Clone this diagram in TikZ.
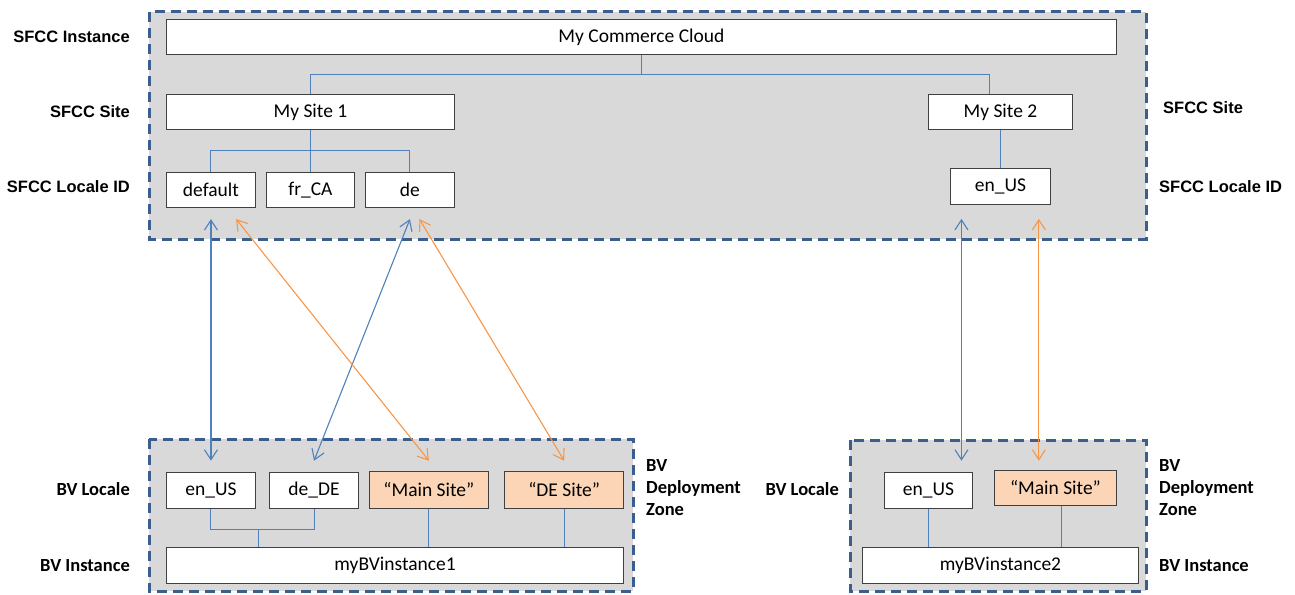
\documentclass[tikz,border=0pt]{standalone}
\usepackage{fontspec}
\setmainfont{Carlito}
\newfontfamily\arialfont{Liberation Sans}
\usetikzlibrary{arrows.meta,calc}
\definecolor{zonegray}{RGB}{217,217,217}
\definecolor{zoneblue}{RGB}{58,95,142}
\definecolor{linkblue}{RGB}{79,129,189}
\definecolor{linkorange}{RGB}{247,150,70}
\definecolor{boxorange}{RGB}{251,213,181}
\definecolor{boxline}{RGB}{64,64,64}
\tikzset{
  zone/.style={fill=zonegray, draw=zoneblue, line width=3pt, dash pattern=on 10pt off 6pt},
  box/.style={draw=boxline, line width=0.9pt, fill=white, anchor=north west, inner sep=0pt,
    font=\fontsize{19.5}{22}\selectfont},
  obox/.style={box, fill=boxorange},
  lbl/.style={font=\fontsize{18.5}{22}\selectfont\bfseries, inner sep=0pt},
  slbl/.style={font=\arialfont\fontsize{16.5}{20}\selectfont\bfseries, inner sep=0pt},
  conn/.style={draw=linkblue, line width=1pt},
  barrow/.style={draw=linkblue, line width=1.1pt, {Straight Barb[length=10pt,width=13pt]}-{Straight Barb[length=10pt,width=13pt]}},
  oarrow/.style={barrow, draw=linkorange},
}
\begin{document}
\begin{tikzpicture}[x=1pt,y=-1pt]
\useasboundingbox (0,0) rectangle (1295,594);
% zones
\draw[zone] (149.4,12) rectangle (1146,239);
\draw[zone] (149.4,439) rectangle (633.4,591);
\draw[zone] (850,440) rectangle (1146,591);
% SFCC boxes
\node[box, minimum width=950pt, minimum height=35pt] (mcc) at (166,19.5) {My Commerce Cloud};
\node[box, minimum width=288pt, minimum height=35pt] (site1) at (166,94.3) {My Site 1};
\node[box, minimum width=144pt, minimum height=35pt] (site2) at (928,94.3) {My Site 2};
\node[box, minimum width=89pt, minimum height=35.5pt] (default) at (166,171.7) {default};
\node[box, minimum width=88pt, minimum height=35.5pt] (frca) at (266,171.7) {fr\_CA};
\node[box, minimum width=89pt, minimum height=35.5pt] (de) at (365,171.7) {de};
\node[box, minimum width=100pt, minimum height=36pt] (sfenus) at (950,168.3) {en\_US};
% BV boxes
\node[box, minimum width=89pt, minimum height=36pt] (bvenus) at (166,471.7) {en\_US};
\node[box, minimum width=88.3pt, minimum height=36pt] (bvdede) at (269.4,471.7) {de\_DE};
\node[obox, minimum width=119.5pt, minimum height=36.7pt] (main1) at (368.7,471) {“Main Site”};
\node[obox, minimum width=119pt, minimum height=36.7pt] (desite) at (504.2,471) {“DE Site”};
\node[box, minimum width=457.3pt, minimum height=35.4pt] (inst1) at (166,547.3) {myBVinstance1};
\node[box, minimum width=88pt, minimum height=35.4pt] (bvenus2) at (884,472.3) {en\_US};
\node[obox, minimum width=122pt, minimum height=35pt] (main2) at (994,470) {“Main Site”};
\node[box, minimum width=276pt, minimum height=35.4pt] (inst2) at (862,547.3) {myBVinstance2};
% labels
\node[slbl, anchor=east] (l1) at (130,37) {SFCC Instance};
\node[slbl, anchor=east] (l2) at (130,112) {SFCC Site};
\node[slbl, anchor=east] (l3) at (130,187) {SFCC Locale ID};
\node[slbl, anchor=west] (r2) at (1163,108) {SFCC Site};
\node[slbl, anchor=west] (r3) at (1159,187) {SFCC Locale ID};
\node[lbl, anchor=east] (l4) at (130,489) {BV Locale};
\node[lbl, anchor=east] (l5) at (130,565.7) {BV Instance};
\node[lbl, anchor=west, align=left] (z1) at (646,488) {BV\\Deployment\\Zone};
\node[lbl, anchor=east] (l6) at (839,489) {BV Locale};
\node[lbl, anchor=west, align=left] (z2) at (1159,488) {BV\\Deployment\\Zone};
\node[lbl, anchor=west] (r5) at (1159,565.7) {BV Instance};
% SFCC tree connectors
\coordinate (j1) at ($(mcc.south)+(0,19.5)$);
\draw[conn] (mcc.south) -- (j1);
\draw[conn] (site1.north) |- (j1) -| ([xshift=-11pt]site2.north);
\draw[conn] (site1.south) -- (frca.north);
\coordinate (j2) at ($(default.north)+(0,-21)$);
\draw[conn] (default.north) -- (j2) -| (de.north);
\draw[conn] (site2.south) -- (sfenus.north);
% BV tree connectors
\coordinate (j3) at ($(bvenus.south)+(0,21.3)$);
\draw[conn] (bvenus.south) -- (j3) -| (bvdede.south);
\draw[conn] (inst1.north -| 258,0) -- (j3 -| 258,0);
\draw[conn] (main1.south) -- (main1.south |- inst1.north);
\draw[conn] (desite.south) -- (desite.south |- inst1.north);
\draw[conn] (bvenus2.south) -- (bvenus2.south |- inst2.north);
\draw[conn] ([xshift=6pt]main2.south) -- ([xshift=6pt]main2.south |- inst2.north);
% mapping arrows
\draw[barrow] ([yshift=-11pt]default.south) -- ([yshift=11pt]bvenus.north);
\draw[barrow] ([yshift=-11pt]de.south) -- ([yshift=11pt]bvdede.north);
\draw[oarrow] ([xshift=25.2pt,yshift=-11pt]default.south) -- ([yshift=10.3pt]main1.north);
\draw[oarrow] ([xshift=9.5pt,yshift=-11pt]de.south) -- ([yshift=10.3pt]desite.north);
\draw[barrow] ([xshift=-39pt,yshift=-13.7pt]sfenus.south) -- ([xshift=33pt,yshift=11.6pt]bvenus2.north);
\draw[oarrow] ([xshift=38.4pt,yshift=-13.7pt]sfenus.south) -- ([xshift=-16.6pt,yshift=9.3pt]main2.north);
\end{tikzpicture}
\end{document}
